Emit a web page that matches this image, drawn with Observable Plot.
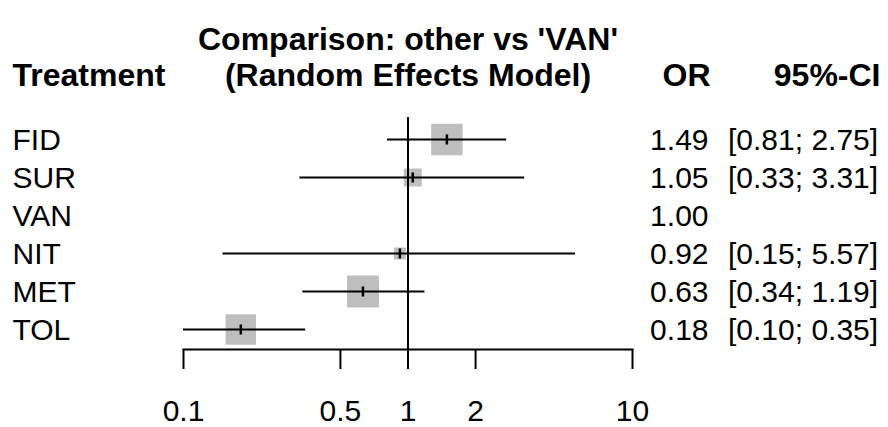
<!DOCTYPE html>
<html><head><meta charset="utf-8">
<script src="https://cdn.jsdelivr.net/npm/d3@7"></script>
<script src="https://cdn.jsdelivr.net/npm/@observablehq/plot@0.6"></script>
<style>body{margin:0;background:#fff}</style>
</head><body><div id="chart"></div>
<script>
const treatments = ["FID", "SUR", "VAN", "NIT", "MET", "TOL"];
const oddsRatio = [1.49, 1.05, 1.00, 0.92, 0.63, 0.18];
const ciLower = [0.81, 0.33, null, 0.15, 0.34, 0.10];
const ciUpper = [2.75, 3.31, null, 5.57, 1.19, 0.35];
const weights = [31.0, 10.1, null, 4.5, 32.0, 28.9];
const xTicks = [0.1, 0.5, 1, 2, 10];
const titleLines = ["Comparison: other vs 'VAN'", "(Random Effects Model)"];
const headerTreatment = "Treatment";
const headerOR = "OR";
const headerCI = "95%-CI";

const rows = treatments.map((t, i) => ({
  treatment: t, or: oddsRatio[i], lower: ciLower[i], upper: ciUpper[i], weight: weights[i]
}));
const withCI = rows.filter(d => d.lower != null);
const fmt = d3.format(".2f");
const vbar = {draw(ctx, size) { const h = Math.sqrt(size / Math.PI); ctx.moveTo(0, -h); ctx.lineTo(0, h); }};

const FONT = 30, BOLD = 32;

const chart = Plot.plot({
  width: 888,
  height: 427,
  marginLeft: 183,
  marginRight: 256,
  marginTop: 117,
  marginBottom: 78,
  style: {fontFamily: "'Liberation Sans', Arial, sans-serif", color: "#000", background: "#fff"},
  x: {type: "log", domain: [0.1, 10], axis: null},
  y: {type: "point", domain: treatments, range: [138.3, 329.3], padding: 0, axis: null},
  r: {type: "sqrt", domain: [0, 32], range: [0, 32 / Math.sqrt(Math.PI)]},
  marks: [
    Plot.dot(withCI, {x: "or", y: "treatment", r: "weight", symbol: "square", fill: "#bebebe", stroke: null}),
    Plot.ruleY(withCI, {x1: "lower", x2: "upper", y: "treatment", stroke: "#000", strokeWidth: 2}),
    Plot.ruleX([1], {stroke: "#000", strokeWidth: 2}),
    Plot.dot(withCI, {x: "or", y: "treatment", r: 5, symbol: vbar, stroke: "#000", strokeWidth: 2.5, fill: "none"}),
    Plot.frame({anchor: "bottom", stroke: "#000", strokeWidth: 2}),
    Plot.axisX({ticks: xTicks, tickFormat: d => String(d), tickSize: 20, tickPadding: 30, fontSize: FONT, strokeWidth: 2, stroke: "#000"}),
    Plot.text(rows, {text: "treatment", y: "treatment", frameAnchor: "left", dx: -171, dy: 1, textAnchor: "start", fontSize: FONT}),
    Plot.text(rows, {text: d => fmt(d.or), y: "treatment", frameAnchor: "right", dx: 76, dy: 1, textAnchor: "end", fontSize: FONT}),
    Plot.text(withCI, {text: d => `[${fmt(d.lower)}; ${fmt(d.upper)}]`, y: "treatment", frameAnchor: "right", dx: 95.5, dy: 1, textAnchor: "start", fontSize: FONT}),
    Plot.text([titleLines[0]], {x: () => 1, frameAnchor: "top", dy: -90.5, textAnchor: "middle", fontWeight: "bold", fontSize: BOLD}),
    Plot.text([titleLines[1]], {x: () => 1, frameAnchor: "top", dy: -54.2, textAnchor: "middle", fontWeight: "bold", fontSize: BOLD}),
    Plot.text([headerTreatment], {frameAnchor: "top-left", dx: -171, dy: -53.8, textAnchor: "start", fontWeight: "bold", fontSize: BOLD}),
    Plot.text([headerOR], {frameAnchor: "top-right", dx: 78, dy: -53.8, textAnchor: "end", fontWeight: "bold", fontSize: BOLD}),
    Plot.text([headerCI], {frameAnchor: "top-right", dx: 248, dy: -53.8, textAnchor: "end", fontWeight: "bold", fontSize: BOLD})
  ]
});
document.getElementById("chart").appendChild(chart);
</script>
</body></html>
